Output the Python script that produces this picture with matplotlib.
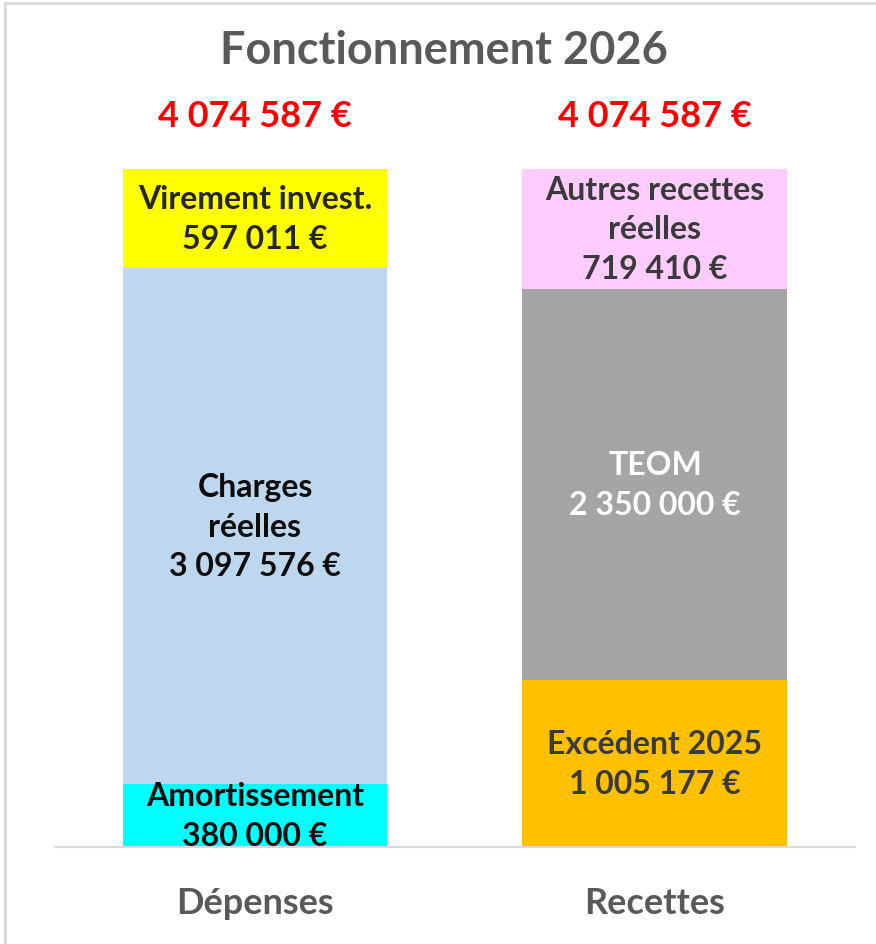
import matplotlib
matplotlib.use("Agg")
import matplotlib.pyplot as plt
from matplotlib.lines import Line2D

# ---- data ----
categories = ["Dépenses", "Recettes"]
dep_labels = ["Amortissement", "Charges\nréelles", "Virement invest."]
dep_values = [380000, 3097576, 597011]
rec_labels = ["Excédent 2025", "TEOM", "Autres recettes\nréelles"]
rec_values = [1005177, 2350000, 719410]
totals = [4074587, 4074587]
title = "Fonctionnement 2026"

dep_colors = ["#00FFFF", "#BDD7EE", "#FFFF00"]
rec_colors = ["#FFC000", "#A5A5A5", "#FFCCFF"]
dep_text = ["#0D0D0D", "#0D0D0D", "#262626"]
rec_text = ["#3A3A3A", "#FFFFFF", "#3A3A3A"]

FONT = "Lato"

def fmt(v):
    return f"{v:,}".replace(",", " ") + " €"

fig = plt.figure(figsize=(8.76, 9.45), dpi=100)
ax = fig.add_axes([55/876, (945-848)/945, 800/876, (848-170)/945])

width = 0.6625
for xi, (labels, values, colors, tcols) in enumerate(
        [(dep_labels, dep_values, dep_colors, dep_text),
         (rec_labels, rec_values, rec_colors, rec_text)]):
    bottom = 0
    for lab, val, col, tc in zip(labels, values, colors, tcols):
        ax.bar(xi, val, width=width, bottom=bottom, color=col, linewidth=0)
        ax.text(xi, bottom + val/2, lab + "\n" + fmt(val), ha="center", va="center",
                fontsize=23, fontweight="bold", family=FONT, color=tc,
                linespacing=1.45, clip_on=False)
        bottom += val

for xi, t in enumerate(totals):
    ax.annotate(fmt(t), xy=(xi, t), xytext=(0, 38.5), textcoords="offset points",
                ha="center", va="center", fontsize=26, fontweight="bold",
                family=FONT, color="#FF0000", annotation_clip=False)

ax.set_xlim(-0.5, 1.5)
ax.set_ylim(0, totals[0])
ax.set_xticks(range(len(categories)))
ax.set_xticklabels(categories, fontsize=26, fontweight="bold", family=FONT, color="#595959")
ax.tick_params(axis="x", length=0, pad=28)
ax.set_yticks([])
for s in ["top", "left", "right"]:
    ax.spines[s].set_visible(False)
ax.spines["bottom"].set_color("#D9D9D9")
ax.spines["bottom"].set_linewidth(1.5)

fig.text(444/876, 1 - 51/945, title, ha="center", va="center", fontsize=32.5,
         fontweight="bold", family=FONT, color="#595959")

# frame lines at top and left
fig.add_artist(Line2D([5/876, 1], [1 - 4/945, 1 - 4/945], transform=fig.transFigure,
                      color="#D9D9D9", linewidth=2))
fig.add_artist(Line2D([5/876, 5/876], [0, 1 - 4/945], transform=fig.transFigure,
                      color="#D9D9D9", linewidth=2))

fig.savefig("out.png", dpi=100)
